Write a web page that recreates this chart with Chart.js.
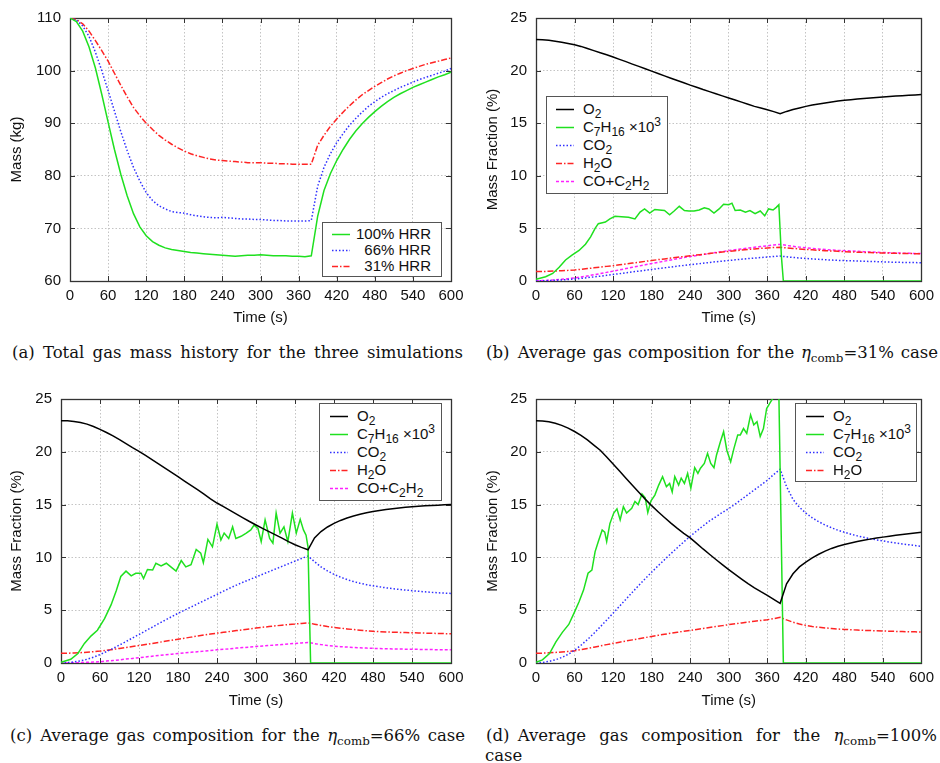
<!DOCTYPE html>
<html>
<head>
<meta charset="utf-8">
<title>Gas mass and composition</title>
<script src="https://cdn.jsdelivr.net/npm/chart.js@4.4.0/dist/chart.umd.min.js"></script>
<style>
  body { margin: 0; background: #fff; }
  #page { position: relative; width: 940px; height: 763px; overflow: hidden; background: #fff; }
  canvas { position: absolute; }
  .legend { position: absolute; box-sizing: border-box; background: #fff; border: 1px solid #555;
            font: 15px 'Liberation Sans', Arial, sans-serif; color: #111; }
  .legend .row { position: absolute; left: 0; right: 0; height: 18px; line-height: 18px; white-space: nowrap; }
  .legend svg { position: absolute; top: 8px; }
  .legend .lbl { position: absolute; top: 0; }
  .legend sub { font-size: 0.8em; vertical-align: -0.35em; line-height: 0; }
  .legend sup { font-size: 0.8em; vertical-align: 0.5em; line-height: 0; }
  .cap { position: absolute; font: 16.5px 'DejaVu Serif', serif; color: #111; line-height: 20px;
         white-space: nowrap; text-align: justify; text-align-last: justify; }
  .cap sub { font-size: 0.72em; vertical-align: -0.3em; line-height: 0; }
</style>
</head>
<body>
<div id="page">
  <canvas id="chartA" width="470" height="335" style="left:0;top:0"></canvas>
  <canvas id="chartB" width="470" height="335" style="left:470px;top:0"></canvas>
  <canvas id="chartC" width="470" height="335" style="left:0;top:380px"></canvas>
  <canvas id="chartD" width="470" height="335" style="left:470px;top:380px"></canvas>

  <div class="legend" id="legA"></div>
  <div class="legend" id="legB"></div>
  <div class="legend" id="legC"></div>
  <div class="legend" id="legD"></div>

  <div class="cap" style="left:12px;top:343px;width:451px">(a)&ensp;Total gas mass history for the three simulations</div>
  <div class="cap" style="left:486px;top:343px;width:452px">(b)&ensp;Average gas composition for the <i>η</i><sub>comb</sub>=31% case</div>
  <div class="cap" style="left:10px;top:726px;width:455px">(c)&ensp;Average gas composition for the <i>η</i><sub>comb</sub>=66% case</div>
  <div class="cap" style="left:486px;top:726px;width:451px">(d)&ensp;Average gas composition for the <i>η</i><sub>comb</sub>=100%</div>
  <div class="cap" style="left:485px;top:746px;text-align:left;text-align-last:left">case</div>
</div>

<script>
// Eixo do tempo (s), comum a quase todas as curvas
const tGrid = [0, 10, 20, 30, 40, 50, 60, 70, 80, 90, 100, 110, 120, 130, 140, 150, 160, 170, 180, 190, 200,
  210, 220, 230, 240, 250, 260, 270, 280, 290, 300, 310, 320, 330, 340, 350, 360, 370, 380, 390, 400,
  410, 420, 430, 440, 450, 460, 470, 480, 490, 500, 510, 520, 530, 540, 550, 560, 570, 580, 590, 600];

// (a) massa total de gas (kg)
const mass100 = [110, 109.3, 107.5, 104.5, 100.5, 95.5, 90.2, 85.0, 80.3, 76.2, 72.8, 70.3, 68.6,
  67.5, 66.8, 66.3, 66.0, 65.8, 65.6, 65.4, 65.3, 65.2, 65.1, 65.0, 64.9, 64.8,
  64.7, 64.8, 64.9, 64.9, 65.0, 64.9, 64.8, 64.8, 64.8, 64.7, 64.7, 64.6, 64.8,
  72.3, 77.2, 80.4, 82.9, 85.0, 86.9, 88.5, 89.9, 91.1, 92.2, 93.2, 94.1, 94.9,
  95.6, 96.2, 96.8, 97.3, 97.8, 98.3, 98.8, 99.2, 99.7];
const mass66 = [110, 109.6, 108.5, 106.5, 103.5, 100.0, 96.2, 92.3, 88.4, 84.8, 81.6, 79.0, 76.8,
  75.3, 74.3, 73.7, 73.2, 73.0, 72.9, 72.6, 72.4, 72.2, 72.1, 72.0, 72.1, 72.0,
  71.9, 71.8, 71.8, 71.7, 71.7, 71.6, 71.5, 71.5, 71.4, 71.4, 71.4, 71.4, 71.5,
  78.0, 81.6, 84.2, 86.3, 88.0, 89.6, 90.9, 92.1, 93.2, 94.1, 94.9, 95.6, 96.2,
  96.8, 97.3, 97.8, 98.3, 98.7, 99.1, 99.5, 99.9, 100.4];
const mass31 = [110, 109.7, 108.9, 107.5, 105.7, 103.8, 101.8, 99.5, 97.2, 95.0, 93.0, 91.4, 90.0,
  88.8, 87.7, 86.8, 86.0, 85.3, 84.7, 84.2, 83.8, 83.5, 83.2, 83.0, 82.9, 82.8,
  82.7, 82.6, 82.5, 82.5, 82.5, 82.4, 82.4, 82.3, 82.3, 82.2, 82.2, 82.2, 82.2,
  85.8, 87.7, 89.4, 90.8, 92.1, 93.3, 94.4, 95.4, 96.2, 97.0, 97.7, 98.4, 99.0,
  99.5, 100.0, 100.4, 100.8, 101.2, 101.5, 101.8, 102.1, 102.4];

// (b) eta = 31%
const o2B = [22.95, 22.93, 22.88, 22.8, 22.7, 22.58, 22.45, 22.3, 22.1, 21.9, 21.7, 21.5, 21.3,
  21.07, 20.85, 20.62, 20.4, 20.17, 19.95, 19.73, 19.5, 19.28, 19.06, 18.84, 18.62, 18.42,
  18.2, 18.0, 17.8, 17.6, 17.4, 17.2, 17.0, 16.8, 16.6, 16.45, 16.28, 16.1, 15.9,
  16.12, 16.3, 16.45, 16.6, 16.72, 16.83, 16.93, 17.02, 17.1, 17.18, 17.24, 17.3, 17.35,
  17.4, 17.45, 17.5, 17.54, 17.58, 17.62, 17.65, 17.68, 17.72];
const co2B = [0.0, 0.02, 0.04, 0.07, 0.1, 0.14, 0.19, 0.25, 0.32, 0.39, 0.46, 0.54, 0.62,
  0.7, 0.78, 0.86, 0.94, 1.02, 1.1, 1.18, 1.25, 1.33, 1.41, 1.48, 1.55, 1.62,
  1.69, 1.76, 1.83, 1.89, 1.95, 2.01, 2.07, 2.13, 2.18, 2.23, 2.28, 2.33, 2.37,
  2.3, 2.24, 2.19, 2.14, 2.1, 2.06, 2.02, 1.99, 1.96, 1.94, 1.92, 1.9, 1.88,
  1.86, 1.84, 1.82, 1.8, 1.78, 1.77, 1.76, 1.75, 1.74];
const h2oB = [0.9, 0.91, 0.92, 0.95, 0.98, 1.01, 1.05, 1.11, 1.18, 1.25, 1.32, 1.39, 1.46,
  1.54, 1.62, 1.7, 1.78, 1.87, 1.95, 2.03, 2.1, 2.18, 2.25, 2.33, 2.4, 2.47,
  2.54, 2.61, 2.68, 2.75, 2.82, 2.88, 2.94, 3.0, 3.05, 3.1, 3.14, 3.18, 3.2,
  3.15, 3.1, 3.05, 3.0, 2.96, 2.92, 2.88, 2.85, 2.82, 2.79, 2.76, 2.74, 2.72,
  2.7, 2.68, 2.66, 2.65, 2.63, 2.62, 2.61, 2.6, 2.6];
const coB = [0.02, 0.04, 0.07, 0.11, 0.16, 0.22, 0.29, 0.38, 0.48, 0.59, 0.7, 0.82, 0.94,
  1.06, 1.18, 1.3, 1.42, 1.54, 1.66, 1.77, 1.89, 2.0, 2.11, 2.22, 2.32, 2.42,
  2.52, 2.62, 2.71, 2.8, 2.89, 2.97, 3.05, 3.13, 3.2, 3.28, 3.35, 3.42, 3.48,
  3.38, 3.3, 3.22, 3.15, 3.09, 3.04, 2.99, 2.95, 2.91, 2.88, 2.85, 2.82, 2.79,
  2.76, 2.73, 2.71, 2.69, 2.67, 2.65, 2.63, 2.62, 2.6];
const tC7B = [0, 15, 26, 36, 46, 56, 67, 77, 85, 92, 97, 108, 115, 123, 133, 144, 154, 162, 169, 177,
  185, 192, 200, 208, 215, 223, 231, 238, 246, 254, 262, 269, 277, 285, 292, 300, 305, 310, 318, 326,
  333, 341, 349, 356, 362, 369, 374, 378, 382, 385, 600];
const c7B = [0.16, 0.4, 0.72, 1.3, 2.0, 2.45, 2.9, 3.5, 4.2, 5.0, 5.45, 5.6, 5.9, 6.15, 6.1, 6.05, 5.9, 6.55, 6.85, 6.45,
  6.8, 6.75, 6.7, 6.3, 6.65, 7.1, 6.7, 6.65, 6.65, 6.75, 6.95, 6.85, 6.45, 6.85, 7.3, 7.25, 7.4, 6.7, 6.75, 6.55,
  6.7, 6.4, 6.65, 6.2, 6.85, 6.75, 7.0, 7.25, 2.3, 0, 0];

// (c) eta = 66%
const o2C = [22.95, 22.93, 22.88, 22.78, 22.62, 22.4, 22.13, 21.83, 21.5, 21.15, 20.78, 20.4, 20.05,
  19.65, 19.25, 18.85, 18.45, 18.05, 17.65, 17.23, 16.82, 16.42, 16.0, 15.55, 15.15, 14.8,
  14.45, 14.1, 13.75, 13.4, 13.07, 12.75, 12.44, 12.13, 11.82, 11.5, 11.2, 10.95, 10.72,
  11.85, 12.45, 12.88, 13.22, 13.5, 13.73, 13.92, 14.08, 14.22, 14.34, 14.44, 14.53, 14.61,
  14.68, 14.74, 14.79, 14.84, 14.88, 14.92, 14.95, 14.98, 15.0];
const co2C = [0.0, 0.04, 0.1, 0.2, 0.35, 0.55, 0.8, 1.08, 1.38, 1.7, 2.03, 2.37, 2.7,
  3.04, 3.38, 3.72, 4.05, 4.38, 4.7, 5.0, 5.3, 5.6, 5.9, 6.2, 6.5, 6.8,
  7.1, 7.38, 7.65, 7.9, 8.15, 8.4, 8.65, 8.9, 9.15, 9.4, 9.65, 9.9, 10.13,
  9.6, 9.1, 8.72, 8.4, 8.13, 7.9, 7.71, 7.55, 7.42, 7.31, 7.21, 7.12, 7.04,
  6.97, 6.91, 6.85, 6.79, 6.74, 6.69, 6.65, 6.62, 6.59];
const h2oC = [0.92, 0.93, 0.95, 0.98, 1.02, 1.07, 1.13, 1.21, 1.29, 1.38, 1.47, 1.56, 1.65,
  1.75, 1.85, 1.95, 2.05, 2.15, 2.25, 2.35, 2.45, 2.55, 2.65, 2.74, 2.83, 2.91,
  2.99, 3.07, 3.15, 3.23, 3.31, 3.38, 3.45, 3.52, 3.58, 3.64, 3.69, 3.75, 3.8,
  3.68, 3.55, 3.45, 3.37, 3.3, 3.23, 3.17, 3.11, 3.05, 3.0, 2.97, 2.94, 2.92,
  2.9, 2.88, 2.87, 2.85, 2.83, 2.81, 2.8, 2.78, 2.77];
const coC = [0.0, 0.01, 0.02, 0.04, 0.06, 0.09, 0.12, 0.18, 0.24, 0.3, 0.37, 0.43, 0.5,
  0.57, 0.64, 0.71, 0.77, 0.83, 0.89, 0.95, 1.01, 1.07, 1.13, 1.19, 1.25, 1.3,
  1.35, 1.41, 1.46, 1.51, 1.56, 1.61, 1.66, 1.71, 1.75, 1.8, 1.85, 1.9, 1.95,
  1.84, 1.74, 1.66, 1.6, 1.55, 1.51, 1.47, 1.44, 1.41, 1.39, 1.37, 1.35, 1.33,
  1.32, 1.31, 1.3, 1.29, 1.28, 1.27, 1.26, 1.26, 1.25];
const tC7C = [0, 15, 26, 36, 46, 56, 67, 77, 85, 92, 100, 108, 115, 123, 127, 133, 141, 146, 154, 162,
  169, 177, 185, 192, 200, 208, 215, 219, 226, 233, 240, 246, 251, 258, 264, 269, 277, 285, 292, 297,
  303, 308, 314, 321, 326, 331, 337, 343, 349, 356, 362, 368, 373, 377, 380, 384, 600];
const c7C = [0.06, 0.35, 0.9, 1.85, 2.55, 3.1, 4.2, 5.5, 6.85, 8.2, 8.7, 8.25, 8.5, 8.5, 8.0, 8.85, 8.8, 9.45, 9.2, 9.45,
  9.1, 8.7, 9.7, 9.1, 9.3, 10.75, 10.4, 9.5, 11.7, 11.0, 13.15, 11.65, 12.3, 11.8, 12.9, 11.8, 12.0, 12.3, 12.6, 13.05,
  12.75, 11.5, 13.55, 11.8, 11.35, 14.2, 12.3, 12.9, 11.5, 14.2, 12.3, 13.6, 12.6, 12.1, 11.0, 0, 0];

// (d) eta = 100%
const o2D = [22.95, 22.92, 22.84, 22.7, 22.5, 22.24, 21.92, 21.55, 21.12, 20.64, 20.15, 19.5, 18.85,
  18.18, 17.5, 16.83, 16.17, 15.52, 14.9, 14.33, 13.78, 13.25, 12.75, 12.28, 11.85, 11.33,
  10.8, 10.3, 9.8, 9.32, 8.85, 8.4, 7.95, 7.52, 7.12, 6.75, 6.4, 6.02, 5.65,
  7.5, 8.45, 9.1, 9.55, 9.95, 10.3, 10.6, 10.85, 11.05, 11.22, 11.37, 11.5, 11.62,
  11.73, 11.83, 11.92, 12.01, 12.09, 12.17, 12.24, 12.31, 12.38];
const co2D = [0.0, 0.05, 0.15, 0.3, 0.52, 0.82, 1.2, 1.68, 2.22, 2.8, 3.42, 4.06, 4.72,
  5.38, 6.04, 6.7, 7.35, 7.98, 8.6, 9.2, 9.78, 10.36, 10.92, 11.47, 12.0, 12.5,
  12.98, 13.45, 13.85, 14.25, 14.62, 15.05, 15.5, 15.95, 16.4, 16.85, 17.3, 17.85, 18.35,
  16.7, 15.5, 14.75, 14.2, 13.75, 13.38, 13.07, 12.8, 12.57, 12.38, 12.2, 12.04, 11.9,
  11.77, 11.66, 11.56, 11.46, 11.37, 11.28, 11.2, 11.12, 11.05];
const h2oD = [0.92, 0.93, 0.96, 1.0, 1.05, 1.1, 1.16, 1.27, 1.38, 1.5, 1.62, 1.74, 1.86,
  1.97, 2.08, 2.19, 2.3, 2.41, 2.52, 2.62, 2.72, 2.82, 2.91, 3.0, 3.09, 3.18,
  3.27, 3.36, 3.45, 3.54, 3.63, 3.71, 3.79, 3.87, 3.95, 4.03, 4.1, 4.2, 4.32,
  4.08, 3.86, 3.69, 3.56, 3.46, 3.38, 3.32, 3.27, 3.22, 3.18, 3.15, 3.12, 3.09,
  3.07, 3.05, 3.03, 3.01, 2.99, 2.98, 2.96, 2.95, 2.93];
const tC7D = [0, 10, 21, 31, 41, 51, 59, 67, 74, 81, 87, 92, 97, 103, 107, 110, 115, 121, 126, 131,
  136, 141, 149, 154, 159, 165, 170, 174, 179, 185, 191, 197, 203, 208, 212, 216, 222, 226, 231, 236,
  241, 247, 252, 256, 262, 267, 272, 277, 281, 287, 292, 297, 303, 308, 314, 318, 323, 328, 334, 339,
  344, 349, 354, 359, 364, 368, 374, 378, 385, 600];
const c7D = [0.06, 0.3, 0.9, 2.0, 2.9, 3.65, 4.7, 5.8, 6.9, 8.5, 8.8, 10.55, 11.5, 12.6, 12.4, 11.5, 13.2, 14.2, 14.6, 13.55,
  14.8, 14.2, 14.65, 15.3, 15.0, 16.0, 15.65, 14.25, 15.35, 15.9, 16.85, 17.65, 16.7, 17.0, 16.2, 17.65, 16.85, 17.5, 17.0, 17.95,
  16.55, 18.5, 17.95, 18.45, 18.9, 19.85, 18.9, 18.5, 19.7, 20.95, 21.9, 20.15, 19.05, 20.3, 21.6, 21.6, 22.2, 21.75, 23.5, 22.55,
  22.85, 21.45, 22.2, 24.1, 24.6, 25.0, 25.8, 25.5, 0, 0];

// Rotulos das series e dos eixos
const massLabels = ['100% HRR', '66% HRR', '31% HRR'];
const speciesLabels = ['O2', 'C7H16 x10^3', 'CO2', 'H2O', 'CO+C2H2'];
const speciesLegend = ['O<sub>2</sub>', 'C<sub>7</sub>H<sub>16</sub> ×10<sup>3</sup>', 'CO<sub>2</sub>',
  'H<sub>2</sub>O', 'CO+C<sub>2</sub>H<sub>2</sub>'];
const timeTicks = { min: 0, max: 600, step: 60 };
const massTicks = { min: 60, max: 110, step: 10 };
const fracTicks = { min: 0, max: 25, step: 5 };

// Estilos de linha (estilo gnuplot)
const styles = {
  green: { color: '#1fe01f', dash: [] },
  blue: { color: '#3030ff', dash: [1.5, 2] },
  red: { color: '#ff2424', dash: [6, 2, 1.5, 2] },
  black: { color: '#000000', dash: [] },
  magenta: { color: '#ff20ff', dash: [3, 2] }
};

Chart.defaults.font.family = "'Liberation Sans', Arial, sans-serif";
Chart.defaults.font.size = 15;
Chart.defaults.color = '#111';

function serie(times, values) {
  return times.map((t, i) => ({ x: t, y: values[i] }));
}

function dataset(label, data, style) {
  return {
    label: label, data: data,
    borderColor: style.color, borderDash: style.dash, borderWidth: 1.5,
    pointRadius: 0, tension: 0, fill: false
  };
}

// Moldura com marcas de escala para dentro (nos quatro lados)
const frame = {
  id: 'frame',
  beforeDatasetsDraw(chart) {
    const { ctx, chartArea: a, scales } = chart;
    ctx.save();
    ctx.strokeStyle = '#333';
    ctx.lineWidth = 1;
    ctx.beginPath();
    scales.x.ticks.forEach(t => {
      const px = Math.round(scales.x.getPixelForValue(t.value)) + 0.5;
      ctx.moveTo(px, a.bottom); ctx.lineTo(px, a.bottom - 5);
      ctx.moveTo(px, a.top); ctx.lineTo(px, a.top + 5);
    });
    scales.y.ticks.forEach(t => {
      const py = Math.round(scales.y.getPixelForValue(t.value)) + 0.5;
      ctx.moveTo(a.left, py); ctx.lineTo(a.left + 5, py);
      ctx.moveTo(a.right, py); ctx.lineTo(a.right - 5, py);
    });
    ctx.stroke();
    ctx.lineWidth = 1.3;
    ctx.strokeRect(Math.round(a.left) + 0.5, Math.round(a.top) + 0.5,
      Math.round(a.right - a.left), Math.round(a.bottom - a.top));
    ctx.restore();
  }
};

// box: posicao da area do grafico dentro do canvas
function makeChart(id, datasets, yTicks, yTitle, box) {
  new Chart(document.getElementById(id), {
    type: 'line',
    data: { datasets: datasets },
    options: {
      responsive: false,
      animation: false,
      layout: { padding: { left: 0, top: box.top, right: 470 - box.right, bottom: 0 } },
      plugins: { legend: { display: false }, tooltip: { enabled: false } },
      scales: {
        x: {
          type: 'linear', min: timeTicks.min, max: timeTicks.max,
          ticks: { stepSize: timeTicks.step, padding: 6, autoSkip: false, maxRotation: 0 },
          grid: { color: '#c4c4c4', drawTicks: false },
          border: { display: false, dash: [1.5, 2] },
          title: { display: true, text: 'Time (s)', padding: { top: 0, bottom: box.xTitlePad } },
          afterFit: s => { s.height = 335 - box.bottom; }
        },
        y: {
          min: yTicks.min, max: yTicks.max,
          ticks: { stepSize: yTicks.step, padding: 9 },
          grid: { color: '#c4c4c4', drawTicks: false },
          border: { display: false, dash: [1.5, 2] },
          title: { display: true, text: yTitle, padding: { top: box.yTitlePad, bottom: 0 } },
          afterFit: s => { s.width = box.left; }
        }
      }
    },
    plugins: [frame]
  });
}

makeChart('chartA', [
  dataset(massLabels[0], serie(tGrid, mass100), styles.green),
  dataset(massLabels[1], serie(tGrid, mass66), styles.blue),
  dataset(massLabels[2], serie(tGrid, mass31), styles.red)
], massTicks, 'Mass (kg)', { left: 70, right: 451, top: 16, bottom: 281, xTitlePad: 8, yTitlePad: 8 });

makeChart('chartB', [
  dataset(speciesLabels[0], serie(tGrid, o2B), styles.black),
  dataset(speciesLabels[1], serie(tC7B, c7B), styles.green),
  dataset(speciesLabels[2], serie(tGrid, co2B), styles.blue),
  dataset(speciesLabels[3], serie(tGrid, h2oB), styles.red),
  dataset(speciesLabels[4], serie(tGrid, coB), styles.magenta)
], fracTicks, 'Mass Fraction (%)', { left: 66, right: 456, top: 16, bottom: 281, xTitlePad: 8, yTitlePad: 14 });

makeChart('chartC', [
  dataset(speciesLabels[0], serie(tGrid, o2C), styles.black),
  dataset(speciesLabels[1], serie(tC7C, c7C), styles.green),
  dataset(speciesLabels[2], serie(tGrid, co2C), styles.blue),
  dataset(speciesLabels[3], serie(tGrid, h2oC), styles.red),
  dataset(speciesLabels[4], serie(tGrid, coC), styles.magenta)
], fracTicks, 'Mass Fraction (%)', { left: 61, right: 451, top: 19, bottom: 283, xTitlePad: 5, yTitlePad: 8 });

makeChart('chartD', [
  dataset(speciesLabels[0], serie(tGrid, o2D), styles.black),
  dataset(speciesLabels[1], serie(tC7D, c7D), styles.green),
  dataset(speciesLabels[2], serie(tGrid, co2D), styles.blue),
  dataset(speciesLabels[3], serie(tGrid, h2oD), styles.red)
], fracTicks, 'Mass Fraction (%)', { left: 66, right: 456, top: 19, bottom: 283, xTitlePad: 5, yTitlePad: 14 });

// Legendas (caixa branca dentro do grafico)
function sampleLine(style) {
  const dash = style.dash.length ? style.dash.join(',') : 'none';
  return `<svg width="18" height="3"><line x1="0" y1="1.5" x2="18" y2="1.5" stroke="${style.color}"
    stroke-width="1.5" stroke-dasharray="${dash}"/></svg>`;
}

function buildLegend(id, box, labels, lineStyles) {
  const el = document.getElementById(id);
  Object.assign(el.style, { left: box.left + 'px', top: box.top + 'px', width: box.width + 'px', height: box.height + 'px' });
  labels.forEach((label, i) => {
    const row = document.createElement('div');
    row.className = 'row';
    row.style.top = (box.rows[i] - 9) + 'px';
    const pos = box.labelRight !== undefined ? `right:${box.labelRight}px` : `left:${box.labelX}px`;
    row.innerHTML = sampleLine(lineStyles[i]).replace('<svg', `<svg style="left:${box.sampleX}px"`) +
      `<span class="lbl" style="${pos}">${label}</span>`;
    el.appendChild(row);
  });
}

const speciesStyles = [styles.black, styles.green, styles.blue, styles.red, styles.magenta];

buildLegend('legA', { left: 322, top: 222, width: 120, height: 55, rows: [11, 27, 43], sampleX: 9, labelRight: 10 },
  massLabels, [styles.green, styles.blue, styles.red]);
buildLegend('legB', { left: 546, top: 96, width: 122, height: 98, rows: [12, 30, 48, 66, 84], sampleX: 9, labelX: 36 },
  speciesLegend, speciesStyles);
buildLegend('legC', { left: 319, top: 403, width: 123, height: 98, rows: [12, 30, 48, 66, 84], sampleX: 10, labelX: 37 },
  speciesLegend, speciesStyles);
buildLegend('legD', { left: 795, top: 403, width: 122, height: 79, rows: [12, 30, 48, 66], sampleX: 10, labelX: 37 },
  speciesLegend.slice(0, 4), speciesStyles.slice(0, 4));
</script>
</body>
</html>
